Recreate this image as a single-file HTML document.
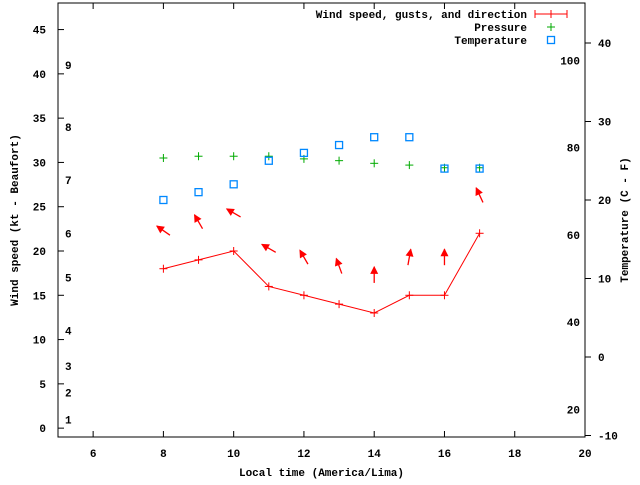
<!DOCTYPE html>
<html><head><meta charset="utf-8"><style>
body{margin:0;background:#fff}
svg text{font-family:"Liberation Mono",monospace;font-size:11px;font-weight:bold;fill:#000}
</style></head><body>
<svg id="c" width="640" height="480" xmlns="http://www.w3.org/2000/svg"></svg>
<script>
const hours=[8,9,10,11,12,13,14,15,16,17];
const windSpeed=[18,19,20,16,15,14,13,15,15,22];
const windDir=[-55,-30,-60,-60,-30,-20,0,10,0,-25];
const pressure=[30.5,30.7,30.7,30.7,30.4,30.2,29.9,29.7,29.4,29.4];
const tempC=[20,21,22,25,26,27,28,28,24,24];
const xTicks=[6,8,10,12,14,16,18,20];
const yTicks=[0,5,10,15,20,25,30,35,40,45];
const y2Ticks=[-10,0,10,20,30,40];
const beaufort=[[1,1],[2,4],[3,7],[4,11],[5,17],[6,22],[7,28],[8,34],[9,41]];
const fTicks=[20,40,60,80,100];

const L=58,R=585,T=3,B=437;
const xs=v=>L+(v-5)/(20-5)*(R-L);
const ys=v=>B-(v+1)/49*(B-T);
const y2s=v=>357-v*7.85;
const svg=document.getElementById('c');
const NS='http://www.w3.org/2000/svg';
function mk(tag,attrs,parent){const e=document.createElementNS(NS,tag);for(const k in attrs)e.setAttribute(k,attrs[k]);(parent||svg).appendChild(e);return e;}

const frame=mk('rect',{x:L,y:T,width:R-L,height:B-T,fill:'none',stroke:'#000'});



xTicks.forEach(v=>{
  const x=xs(v);
  mk('line',{x1:x,y1:B,x2:x,y2:B-6,stroke:'#000'});
  mk('line',{x1:x,y1:T,x2:x,y2:T+6,stroke:'#000'});
  const t=mk('text',{x:x,y:B+20,'text-anchor':'middle'});t.textContent=v;
  
  
});
yTicks.forEach(v=>{
  const y=ys(v);
  mk('line',{x1:L,y1:y,x2:L+6,y2:y,stroke:'#000'});
  const t=mk('text',{x:46,y:y+4,'text-anchor':'end'});t.textContent=v;
  
  
});
y2Ticks.forEach(v=>{
  const y=y2s(v);
  mk('line',{x1:R,y1:y,x2:R+6,y2:y,stroke:'#000'});
  const t=mk('text',{x:598,y:y+4});t.textContent=v;
  
  
});
beaufort.forEach(b=>{
  const t=mk('text',{x:65,y:ys(b[1])+4});t.textContent=b[0];
  
  
});
fTicks.forEach(f=>{
  const y=y2s((f-32)*5/9);
  const t=mk('text',{x:580,y:y+4,'text-anchor':'end'});t.textContent=f;
  
  
});

const xt=mk('text',{x:(L+R)/2,y:476,'text-anchor':'middle'});xt.textContent='Local time (America/Lima)';


const yt=mk('text',{x:18,y:(T+B)/2,'text-anchor':'middle',transform:`rotate(-90 18 ${(T+B)/2})`});yt.textContent='Wind speed (kt - Beaufort)';


const y2t=mk('text',{x:628,y:(T+B)/2,'text-anchor':'middle',transform:`rotate(-90 628 ${(T+B)/2})`});y2t.textContent='Temperature (C - F)';



// wind line
const wl=mk('polyline',{points:hours.map((h,i)=>xs(h)+','+ys(windSpeed[i])).join(' '),fill:'none',stroke:'#f00'});


function plus(x,y,c,name){const g=mk('g',{stroke:c});mk('line',{x1:x-4,y1:y,x2:x+4,y2:y},g);mk('line',{x1:x,y1:y-4,x2:x,y2:y+4},g);}
hours.forEach((h,i)=>plus(xs(h),ys(windSpeed[i]),'#f00','wind-point'));
// direction arrows
hours.forEach((h,i)=>{
  const cx=xs(h),cy=ys(windSpeed[i]+4.3),a=windDir[i]*Math.PI/180,len=16;
  const dx=Math.sin(a),dy=-Math.cos(a);
  const hx=cx+dx*len/2,hy=cy+dy*len/2,tx=cx-dx*len/2,ty=cy-dy*len/2;
  const g=mk('g',{});
  mk('line',{x1:tx,y1:ty,x2:hx,y2:hy,stroke:'#f00','stroke-width':1.3},g);
  const px=-dy,py=dx,bx=hx-dx*7,by=hy-dy*7;
  mk('polygon',{points:`${hx+dx},${hy+dy} ${bx+px*4},${by+py*4} ${bx-px*4},${by-py*4}`,fill:'#f00'},g);
  
  
});
hours.forEach((h,i)=>plus(xs(h),ys(pressure[i]),'#0a0','pressure-point'));
hours.forEach((h,i)=>{
  const r=mk('rect',{x:xs(h)-3.5,y:y2s(tempC[i])-3.5,width:7,height:7,fill:'none',stroke:'#08f','stroke-width':1.3});
  
  
});

// legend
const lg=mk('g',{});
[['Wind speed, gusts, and direction',18],['Pressure',31],['Temperature',44]].forEach(e=>{
  const t=mk('text',{x:527,y:e[1],'text-anchor':'end'},lg);t.textContent=e[0];
  
  
});
mk('line',{x1:535,y1:14,x2:567,y2:14,stroke:'#f00'},lg);
mk('line',{x1:535,y1:10,x2:535,y2:18,stroke:'#f00'},lg);
mk('line',{x1:567,y1:10,x2:567,y2:18,stroke:'#f00'},lg);
mk('line',{x1:551,y1:10,x2:551,y2:18,stroke:'#f00'},lg);
plus(551,27,'#0a0','legend-pressure-symbol');
mk('rect',{x:547.5,y:36.5,width:7,height:7,fill:'none',stroke:'#08f','stroke-width':1.3},lg);
</script>
</body></html>
